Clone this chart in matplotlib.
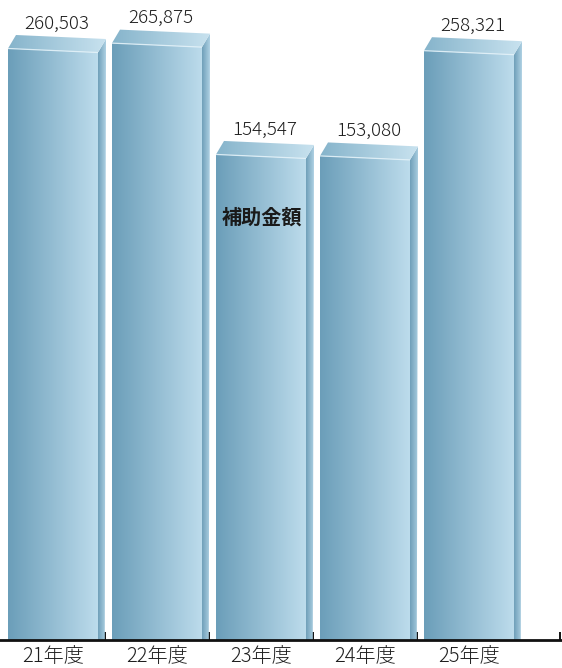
import numpy as np
import matplotlib
matplotlib.use("Agg")
import matplotlib.pyplot as plt
from matplotlib.patches import Polygon
from matplotlib.colors import LinearSegmentedColormap

plt.rcParams["font.family"] = ["Noto Sans CJK JP", "DejaVu Sans"]

# ---- data -------------------------------------------------------------
years = ["21年度", "22年度", "23年度", "24年度", "25年度"]
amounts = [260503, 265875, 154547, 153080, 258321]
series_name = "補助金額"

# ---- figure / axes ----------------------------------------------------
W, H, DPI = 562, 668, 100
fig = plt.figure(figsize=(W / DPI, H / DPI), dpi=DPI)
AX_BOTTOM_PX = 28
ax = fig.add_axes([0, AX_BOTTOM_PX / H, 1, 1 - AX_BOTTOM_PX / H])

y_min = -331000
y_max = y_min + 640 * 1000
ax.set_xlim(-53 / 104, (562 - 53) / 104)
ax.set_ylim(y_min, y_max)
ax.set_autoscale_on(False)

bar_width = 90 / 104
depth_px = (8.0, 13.5)      # receding offset of the bar's back edges
slant_px = 4.0              # perspective drop across the top edge

front_cols = ("#6b9eb9", "#bddcec")
top_cols = ("#86b4cb", "#c8e2ef")
side_cols = ("#6f9fb9", "#aed1e3")


def to_px(x, y):
    return ax.transData.transform((x, y))


def to_data(px, py):
    return tuple(ax.transData.inverted().transform((px, py)))


def gradient_poly(verts, c0, c1, z):
    poly = Polygon(verts, closed=True, facecolor="none", edgecolor="none",
                   zorder=z)
    ax.add_patch(poly)
    xs = [v[0] for v in verts]
    ys = [v[1] for v in verts]
    cmap = LinearSegmentedColormap.from_list("face", [c0, c1])
    grad = np.linspace(0, 1, 256).reshape(1, -1)
    im = ax.imshow(grad, cmap=cmap, aspect="auto", interpolation="bilinear",
                   extent=(min(xs), max(xs), min(ys), max(ys)), zorder=z)
    im.set_clip_path(poly)


def draw_bar(xc, value, z):
    x0, x1 = xc - bar_width / 2, xc + bar_width / 2
    # pixel corners of the front face
    bl = to_px(x0, y_min)
    br = to_px(x1, y_min)
    tl = to_px(x0, value)
    tr = np.array([to_px(x1, value)[0], tl[1] - slant_px])
    dx, dy = depth_px
    btl = tl + np.array([dx, dy])
    btr = tr + np.array([dx, dy])
    bbr = br + np.array([dx * 0.85, 0])

    front = [to_data(*p) for p in (bl, br, tr, tl)]
    top = [to_data(*p) for p in (tl, tr, btr, btl)]
    side = [to_data(*p) for p in (br, bbr, btr, tr)]

    gradient_poly(side, *side_cols, z)
    gradient_poly(top, *top_cols, z + 0.1)
    gradient_poly(front, *front_cols, z + 0.2)
    hl = [to_data(*tl), to_data(*tr)]
    ax.plot([hl[0][0], hl[1][0]], [hl[0][1], hl[1][1]], color="#e2f1f8",
            lw=0.9, alpha=0.9, zorder=z + 0.3, solid_capstyle="butt")


xs = np.arange(len(years))
for i, (xc, v) in enumerate(zip(xs, amounts)):
    draw_bar(xc, v, 2 + i)
    ax.annotate(f"{v:,}", xy=(xc, v), xytext=(4, 25),
                textcoords="offset pixels", ha="center", va="center",
                fontsize=13.5, fontweight="light", color="#1e1e1e",
                zorder=20)

# ---- axis -------------------------------------------------------------
for s in ("left", "right", "top"):
    ax.spines[s].set_visible(False)
ax.spines["bottom"].set_linewidth(2.0)
ax.spines["bottom"].set_color("#111111")
ax.spines["bottom"].set_zorder(30)
ax.set_yticks([])

boundaries = [0.5, 1.5, 2.5, 3.5, (560 - 53) / 104]
ax.set_xticks(boundaries)
ax.set_xticklabels([])
ax.tick_params(axis="x", which="major", direction="in", length=5.5,
               width=1.4, color="#111111")
ax.set_xticks(xs, minor=True)
ax.set_xticklabels(years, minor=True, fontsize=14.5, fontweight="light",
                   color="#1e1e1e")
ax.tick_params(axis="x", which="minor", length=0, pad=4.5)

fig.text(262 / W, 1 - 217 / H, series_name, ha="center", va="center",
         fontsize=14.5, fontweight="bold", color="#1a1a1a")

fig.savefig("out.png", dpi=DPI)
